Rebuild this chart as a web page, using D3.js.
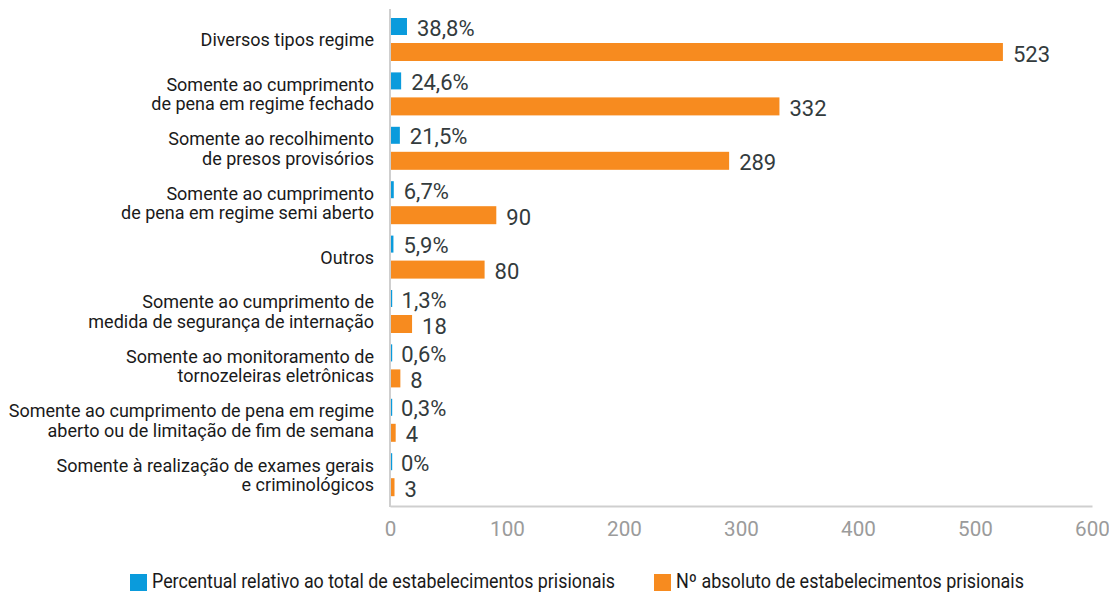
<!DOCTYPE html>
<html><head><meta charset="utf-8">
<script src="https://cdn.jsdelivr.net/npm/d3@7"></script>
<style>
html,body{margin:0;padding:0;background:#fff;}
svg{display:block;font-family:Roboto,"Noto Sans",sans-serif;}
</style></head>
<body><svg id="chart" width="1109" height="592"></svg>
<script>
const categories = [
  "Diversos tipos regime",
  "Somente ao cumprimento\nde pena em regime fechado",
  "Somente ao recolhimento\nde presos provisórios",
  "Somente ao cumprimento\nde pena em regime semi aberto",
  "Outros",
  "Somente ao cumprimento de\nmedida de segurança de internação",
  "Somente ao monitoramento de\ntornozeleiras eletrônicas",
  "Somente ao cumprimento de pena em regime\naberto ou de limitação de fim de semana",
  "Somente à realização de exames gerais\ne criminológicos"
];
const percentValues = [38.8, 24.6, 21.5, 6.7, 5.9, 1.3, 0.6, 0.3, 0];
const absoluteValues = [523, 332, 289, 90, 80, 18, 8, 4, 3];
const xTicks = [0, 100, 200, 300, 400, 500, 600];
const seriesNames = ["Percentual relativo ao total de estabelecimentos prisionais", "Nº absoluto de estabelecimentos prisionais"];
const colors = ["#0a9bdc", "#f78b1f"];

const svg = d3.select("#chart");
const x = d3.scaleLinear().domain([0, 600]).range([390, 1092]);
const xPct = d3.scaleLinear().domain([0, 100]).range([390, 431.2]);
const y = d3.scaleBand().domain(categories).range([12.5, 502.1]).padding(0);
const bw = y.bandwidth();
const fmtPct = v => String(v).replace(".", ",") + "%";

// axes
const axisG = svg.append("g").attr("transform", "translate(0,506)")
  .call(d3.axisBottom(x).tickValues(xTicks).tickSize(0).tickPadding(16).tickFormat(d3.format("d")));
axisG.select(".domain").attr("stroke", "#cfcfcf").attr("stroke-width", 2);
axisG.selectAll("text").attr("font-size", 20).attr("fill", "#9b9b9b")
  .attr("font-family", "Roboto, sans-serif")
  .attr("textLength", d => String(d).length * 11.6).attr("lengthAdjust", "spacingAndGlyphs");

svg.append("line").attr("x1", x(0)).attr("x2", x(0)).attr("y1", 9).attr("y2", 507)
  .attr("stroke", "#cfcfcf").attr("stroke-width", 2);

// bars
const rows = svg.append("g").selectAll("g").data(categories).join("g")
  .attr("transform", c => `translate(0,${y(c)})`);

rows.append("rect").attr("x", x(0) + 1).attr("y", 5.5).attr("height", 17)
  .attr("width", (c, i) => Math.max(0, xPct(percentValues[i]) - x(0)))
  .attr("fill", colors[0]);
rows.append("rect").attr("x", x(0) + 1).attr("y", 30.5).attr("height", 18)
  .attr("width", (c, i) => Math.max(0, x(absoluteValues[i]) - x(0)))
  .attr("fill", colors[1]);

// tiny markers for near-zero percentages
rows.filter((c, i) => percentValues[i] < 2).append("rect")
  .attr("x", x(0) + 1).attr("y", 5.5).attr("height", 17).attr("width", 1.2).attr("fill", colors[0]);

rows.append("text").attr("x", (c, i) => xPct(percentValues[i]) + 11).attr("y", 15.5)
  .attr("dy", "0.35em").attr("font-size", 22).attr("fill", "#333b3d")
  .text((c, i) => fmtPct(percentValues[i]));
rows.append("text").attr("x", (c, i) => x(absoluteValues[i]) + 11).attr("y", 41.5)
  .attr("dy", "0.35em").attr("font-size", 22).attr("fill", "#333b3d")
  .text((c, i) => absoluteValues[i]);

// category labels
rows.each(function(c) {
  const lines = c.split("\n");
  const lh = 19.5;
  const cy = bw / 2;
  const t = d3.select(this).append("text").attr("text-anchor", "end")
    .attr("font-size", 18).attr("fill", "#1a1a1a");
  lines.forEach((l, k) => {
    t.append("tspan").attr("x", 374)
      .attr("y", cy + (k - (lines.length - 1) / 2) * lh + 6.5).text(l);
  });
});

// legend
const legend = svg.append("g");
const lx = [130, 654];
const lw = [463, 348];
seriesNames.forEach((n, i) => {
  legend.append("rect").attr("x", lx[i]).attr("y", 574).attr("width", 17).attr("height", 17).attr("fill", colors[i]);
  legend.append("text").attr("x", lx[i] + 22).attr("y", 587.5).attr("font-size", 19.5).attr("fill", "#1a1a1a")
    .attr("textLength", lw[i]).attr("lengthAdjust", "spacingAndGlyphs").text(n);
});
</script></body></html>
